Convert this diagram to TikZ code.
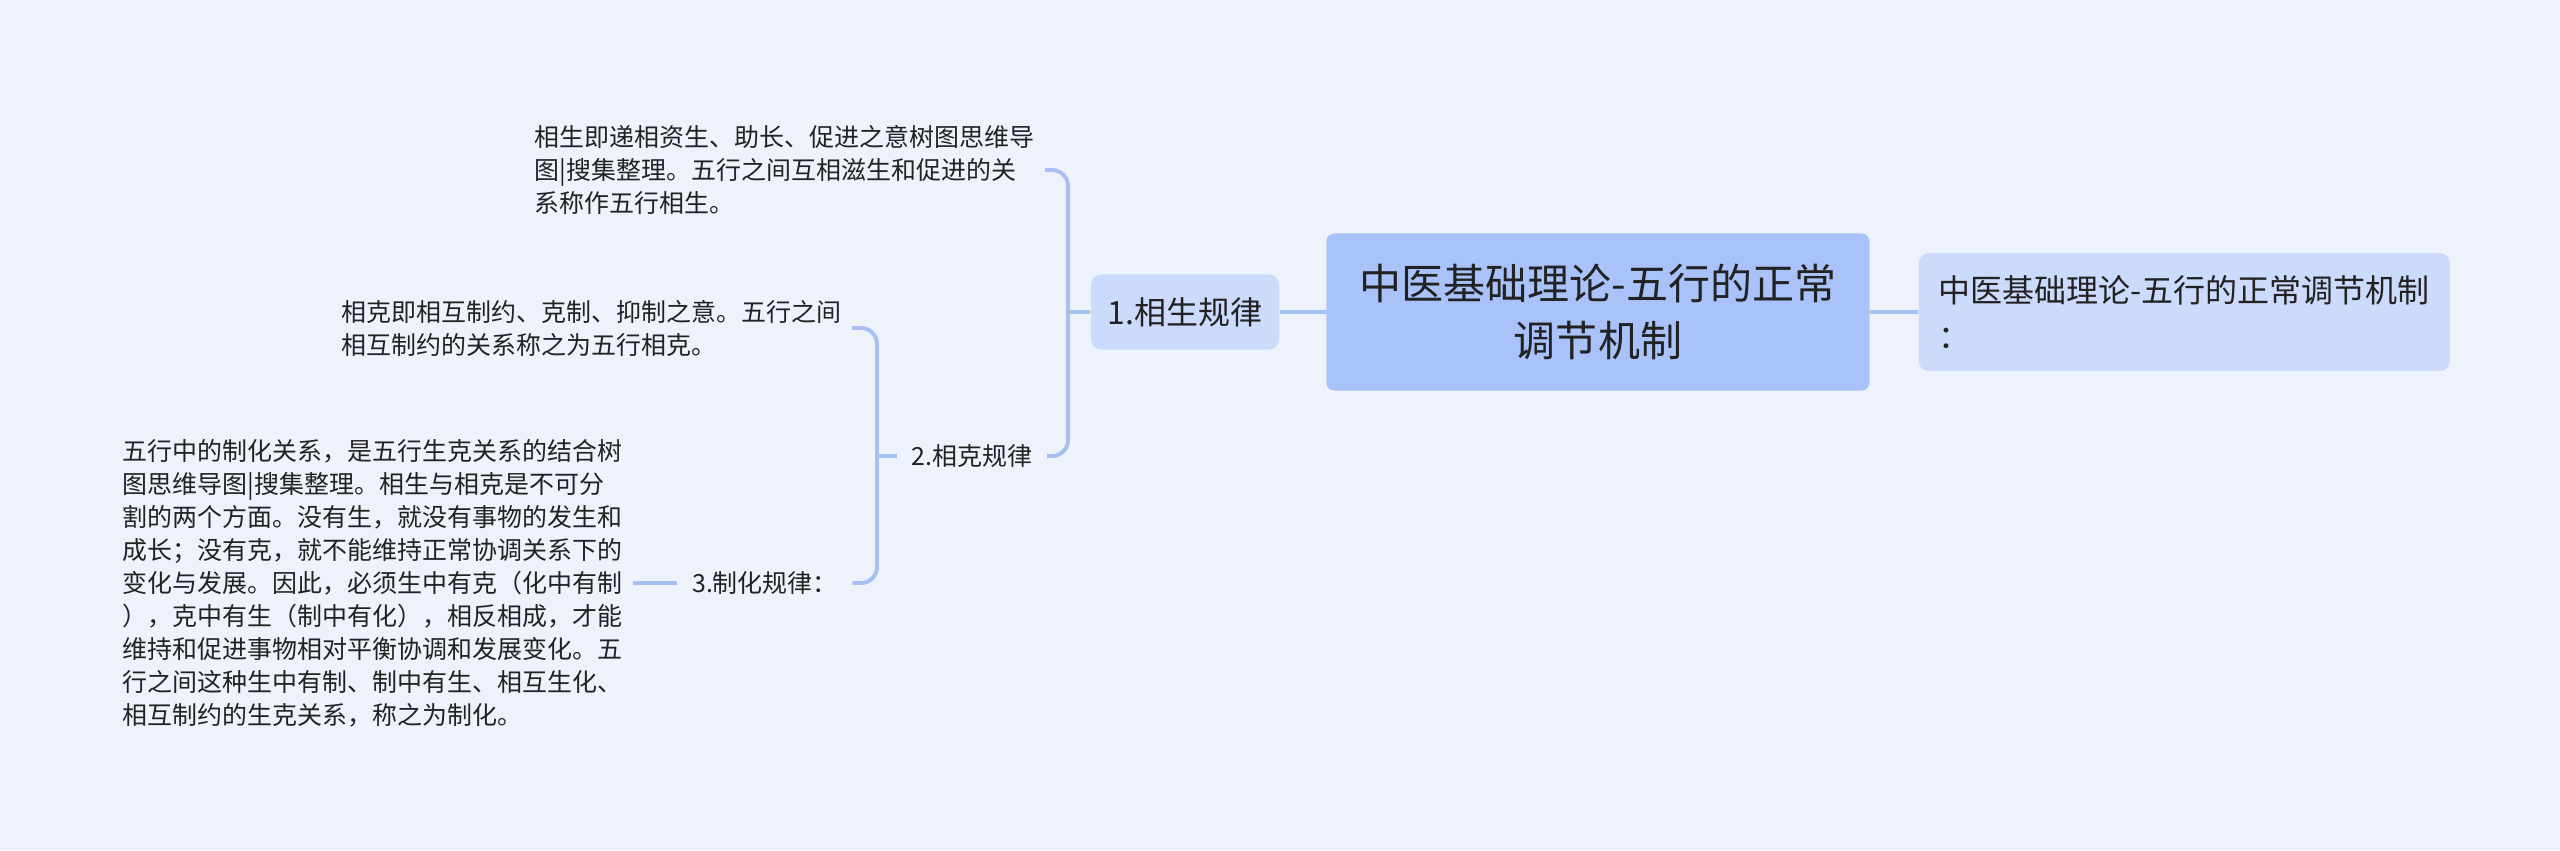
\documentclass[tikz,border=0pt]{standalone}
\usepackage{fontspec}
\usepackage{xcolor}
\usepackage{tikz}
\usetikzlibrary{positioning}
\newfontfamily\cjk{Noto Sans CJK SC}
\definecolor{mapbg}{HTML}{EEF2FB}
\definecolor{maproot}{HTML}{AAC2FA}
\definecolor{mapsub}{HTML}{CCDAFB}
\definecolor{mapline}{HTML}{A8BFF3}
\definecolor{mapink}{HTML}{222222}

\tikzset{
  link/.style={draw=mapline,line width=1.1pt},
  rootbox/.style={fill=maproot,rounded corners=0.08cm,minimum width=5.43cm,minimum height=1.57cm,
    align=center,text=mapink,font=\cjk\fontsize{11.95}{16.2}\selectfont},
  subbox/.style={fill=mapsub,rounded corners=0.1cm,text=mapink,font=\cjk\fontsize{9.1}{13.1}\selectfont},
  leaf/.style={align=left,inner xsep=0.1cm,text=mapink,font=\cjk\fontsize{7.1}{9.4}\selectfont},
  plain/.style={inner xsep=0.14cm,text=mapink,font=\cjk\fontsize{7.1}{9.4}\selectfont}
}

\begin{document}
\begin{tikzpicture}[x=0.01cm,y=-0.01cm]
  \fill[mapbg] (0,0) rectangle (2560,850);
  % centre and right
  \node[rootbox] (root) at (1598,312) {中医基础理论-五行的正常\\调节机制};
  \node[subbox,anchor=west,align=left,inner xsep=0.2cm,minimum height=1.18cm] (detail) at (1918,312)
    {中医基础理论-五行的正常调节机制\\：};
  \draw[link] (root.east) -- (detail.west);
  % first level
  \node[subbox,minimum width=1.88cm,minimum height=0.75cm] (sheng) at (1185,312) {1.相生规律};
  \draw[link] (root.west) -- (sheng.east);
  \node[plain] (ke) at (972,456) {2.相克规律};
  \node[leaf,anchor=east] (t1) at (1045,170)
    {相生即递相资生、助长、促进之意树图思维导\\图|搜集整理。五行之间互相滋生和促进的关\\系称作五行相生。};
  \coordinate (j1) at (1068,312);
  \draw[link] (sheng.west) -- (j1);
  \draw[link,rounded corners=0.16cm] (t1.east) -| (j1) |- (ke.east);
  % second level
  \node[plain] (zhi) at (765,583) {3.制化规律：};
  \node[leaf,anchor=east] (t2) at (852,328)
    {相克即相互制约、克制、抑制之意。五行之间\\相互制约的关系称之为五行相克。};
  \coordinate (j2) at (877,456);
  \draw[link] (ke.west) -- (j2);
  \draw[link,rounded corners=0.16cm] (t2.east) -| (j2) |- (zhi.east);
  \node[leaf,anchor=east] (t3) at (633,583)
    {五行中的制化关系，是五行生克关系的结合树\\图思维导图|搜集整理。相生与相克是不可分\\割的两个方面。没有生，就没有事物的发生和\\成长；没有克，就不能维持正常协调关系下的\\变化与发展。因此，必须生中有克（化中有制\\），克中有生（制中有化），相反相成，才能\\维持和促进事物相对平衡协调和发展变化。五\\行之间这种生中有制、制中有生、相互生化、\\相互制约的生克关系，称之为制化。};
  \draw[link] (zhi.west) -- (t3.east);
\end{tikzpicture}
\end{document}
